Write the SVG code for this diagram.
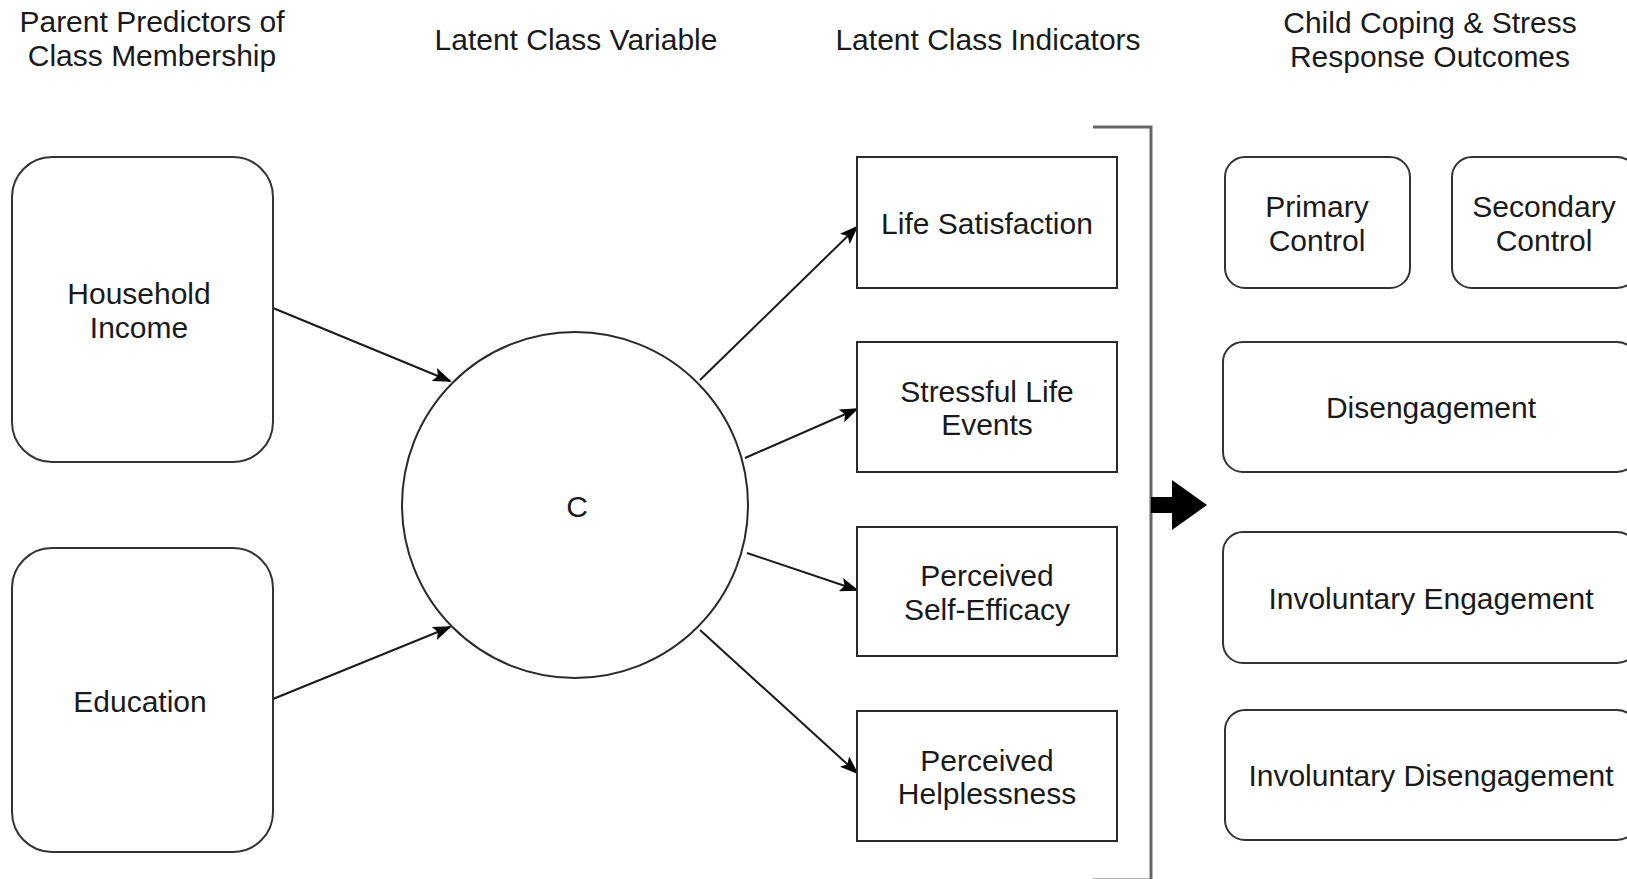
<svg xmlns="http://www.w3.org/2000/svg" width="1627" height="879" viewBox="0 0 1627 879">
<style>
text{font-family:"Liberation Sans",Arial,sans-serif;font-size:30px;fill:#1a1a1a;text-anchor:middle}
.box{fill:#fff;stroke:#2a2a2a;stroke-width:2}
.rbox{fill:#fff;stroke:#333;stroke-width:2}
.edge{stroke:#1a1a1a;stroke-width:2;fill:none;marker-end:url(#ah)}
.bracket{stroke:#666;stroke-width:3;fill:none}
</style>
<defs>
<marker id="ah" markerUnits="userSpaceOnUse" markerWidth="20" markerHeight="14" refX="17" refY="7" orient="auto" viewBox="0 0 20 14">
<path d="M0,0 L19,7 L0,14 L4,7 z" fill="#000"/>
</marker>
</defs>
<rect width="1627" height="879" fill="#fff"/>
<g id="headers">
<text x="152" y="32">Parent Predictors of</text>
<text x="152" y="66">Class Membership</text>
<text x="576" y="50">Latent Class Variable</text>
<text x="988" y="50">Latent Class Indicators</text>
<text x="1430" y="33">Child Coping &amp; Stress</text>
<text x="1430" y="67">Response Outcomes</text>
</g>
<g id="connectors">
<path class="edge" d="M273,308 L450,381"/>
<path class="edge" d="M273,699 L450,627"/>
<path class="edge" d="M700,380 L857,227"/>
<path class="edge" d="M745,458 L857,409"/>
<path class="edge" d="M747,553 L857,590"/>
<path class="edge" d="M700,630 L857,773"/>
<path class="bracket" d="M1093,127 L1151,127 L1151,880 L1093,880"/>
<polygon points="1151,497 1172,497 1172,480 1207,505 1172,530 1172,513 1151,513" fill="#000"/>
</g>
<g id="household-income">
<rect class="rbox" x="12" y="157" width="261" height="305" rx="40" ry="40"/>
<text x="139" y="304">Household</text>
<text x="139" y="338">Income</text>
</g>
<g id="education">
<rect class="rbox" x="12" y="548" width="261" height="304" rx="40" ry="40"/>
<text x="140" y="712">Education</text>
</g>
<g id="latent-c">
<circle cx="575" cy="505" r="173" fill="#fff" stroke="#2a2a2a" stroke-width="2"/>
<text x="577" y="517">C</text>
</g>
<g id="life-satisfaction">
<rect class="box" x="857" y="157" width="260" height="131"/>
<text x="987" y="234">Life Satisfaction</text>
</g>
<g id="stressful-life-events">
<rect class="box" x="857" y="342" width="260" height="130"/>
<text x="987" y="402">Stressful Life</text>
<text x="987" y="435">Events</text>
</g>
<g id="self-efficacy">
<rect class="box" x="857" y="527" width="260" height="129"/>
<text x="987" y="586">Perceived</text>
<text x="987" y="620">Self-Efficacy</text>
</g>
<g id="helplessness">
<rect class="box" x="857" y="711" width="260" height="130"/>
<text x="987" y="771">Perceived</text>
<text x="987" y="804">Helplessness</text>
</g>
<g id="primary-control">
<rect class="rbox" x="1225" y="157" width="185" height="131" rx="20" ry="20"/>
<text x="1317" y="217">Primary</text>
<text x="1317" y="251">Control</text>
</g>
<g id="secondary-control">
<rect class="rbox" x="1452" y="157" width="185" height="131" rx="20" ry="20"/>
<text x="1544" y="217">Secondary</text>
<text x="1544" y="251">Control</text>
</g>
<g id="disengagement">
<rect class="rbox" x="1223" y="342" width="414" height="130" rx="20" ry="20"/>
<text x="1431" y="418">Disengagement</text>
</g>
<g id="involuntary-engagement">
<rect class="rbox" x="1223" y="532" width="414" height="131" rx="20" ry="20"/>
<text x="1431" y="609">Involuntary Engagement</text>
</g>
<g id="involuntary-disengagement">
<rect class="rbox" x="1225" y="710" width="412" height="130" rx="20" ry="20"/>
<text x="1431" y="786">Involuntary Disengagement</text>
</g>
</svg>
